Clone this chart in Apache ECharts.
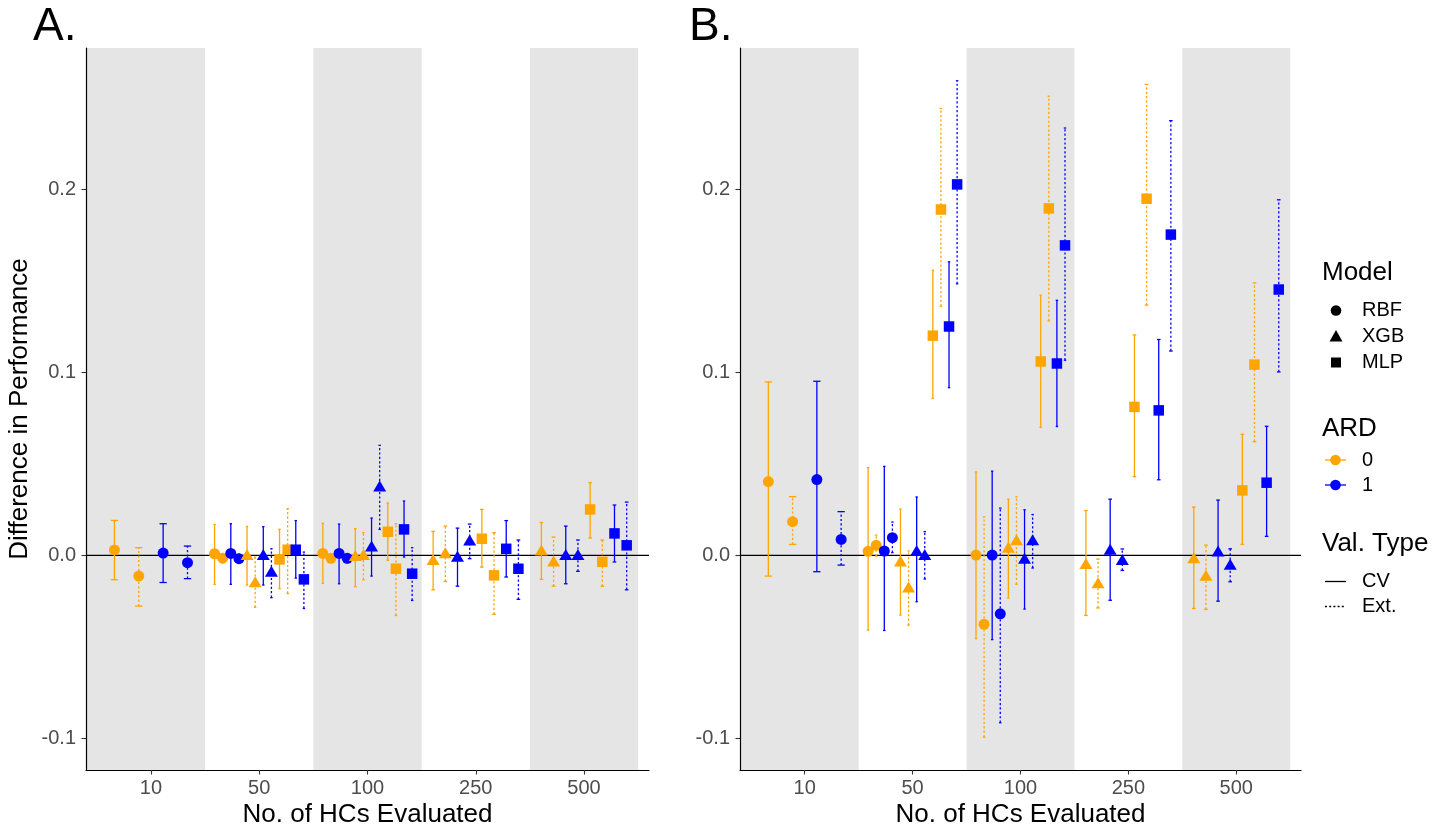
<!DOCTYPE html>
<html><head><meta charset="utf-8">
<script src="https://cdn.jsdelivr.net/npm/echarts@6/dist/echarts.min.js"></script>
<style>html,body{margin:0;padding:0;background:#fff}#c{width:1450px;height:831px}</style>
</head><body><div id="c"></div>
<script>
// ---------------- DATA ----------------
const categories = ['10', '50', '100', '250', '500'];
const yTickValues = [-0.1, 0, 0.1, 0.2];
const xTickValues = [1, 2, 3, 4, 5];

// group order: model x ARD x validation type
const groupModel = ['RBF','RBF','RBF','RBF','XGB','XGB','XGB','XGB','MLP','MLP','MLP','MLP'];
const groupARD   = [0,0,1,1,0,0,1,1,0,0,1,1];
const groupVal   = ['CV','Ext','CV','Ext','CV','Ext','CV','Ext','CV','Ext','CV','Ext'];

// each entry: [estimate, lower, upper] per category (null = not evaluated)
const A_RBF_0_CV  = [[0.0030,-0.0133,0.0191],[0.0009,-0.0158,0.0169],[0.0011,-0.0153,0.0175],null,null];
const A_RBF_0_Ext = [[-0.0113,-0.0277,0.0042],[-0.0015,-0.0040,0.0010],[-0.0016,-0.0040,0.0008],null,null];
const A_RBF_1_CV  = [[0.0013,-0.0148,0.0173],[0.0011,-0.0158,0.0173],[0.0011,-0.0155,0.0171],null,null];
const A_RBF_1_Ext = [[-0.0040,-0.0127,0.0051],[-0.0018,-0.0042,0.0006],[-0.0016,-0.0040,0.0008],null,null];
const A_XGB_0_CV  = [null,[0.0005,-0.0162,0.0158],[0.0000,-0.0171,0.0146],[-0.0022,-0.0188,0.0131],[0.0029,-0.0131,0.0180]];
const A_XGB_0_Ext = [null,[-0.0144,-0.0284,-0.0010],[0.0005,-0.0133,0.0124],[0.0015,-0.0142,0.0160],[-0.0031,-0.0168,0.0100]];
const A_XGB_1_CV  = [null,[0.0005,-0.0162,0.0157],[0.0051,-0.0113,0.0204],[-0.0004,-0.0168,0.0149],[0.0005,-0.0155,0.0160]];
const A_XGB_1_Ext = [null,[-0.0086,-0.0231,0.0036],[0.0379,0.0142,0.0601],[0.0084,-0.0018,0.0171],[0.0005,-0.0087,0.0084]];
const A_MLP_0_CV  = [null,[-0.0022,-0.0182,0.0142],[0.0129,-0.0027,0.0286],[0.0091,-0.0064,0.0251],[0.0251,0.0095,0.0397]];
const A_MLP_0_Ext = [null,[0.0031,-0.0208,0.0255],[-0.0073,-0.0328,0.0173],[-0.0109,-0.0322,0.0124],[-0.0035,-0.0168,0.0084]];
const A_MLP_1_CV  = [null,[0.0031,-0.0124,0.0190],[0.0142,-0.0009,0.0297],[0.0036,-0.0118,0.0190],[0.0120,-0.0036,0.0275]];
const A_MLP_1_Ext = [null,[-0.0131,-0.0290,0.0018],[-0.0100,-0.0246,0.0042],[-0.0073,-0.0240,0.0084],[0.0055,-0.0188,0.0291]];

const B_RBF_0_CV  = [[0.0403,-0.0113,0.0947],[0.0022,-0.0408,0.0479],[0.0002,-0.0455,0.0456],null,null];
const B_RBF_0_Ext = [[0.0184,0.0060,0.0321],[0.0055,-0.0004,0.0111],[-0.0376,-0.0993,0.0210],null,null];
const B_RBF_1_CV  = [[0.0414,-0.0089,0.0951],[0.0024,-0.0410,0.0486],[0.0002,-0.0460,0.0460],null,null];
const B_RBF_1_Ext = [[0.0087,-0.0053,0.0239],[0.0097,0.0015,0.0182],[-0.0319,-0.0914,0.0258],null,null];
const B_XGB_0_CV  = [null,[-0.0031,-0.0326,0.0253],[0.0045,-0.0233,0.0307],[-0.0044,-0.0328,0.0245],[-0.0013,-0.0290,0.0264]];
const B_XGB_0_Ext = [null,[-0.0173,-0.0381,0.0024],[0.0085,-0.0158,0.0320],[-0.0150,-0.0287,-0.0020],[-0.0108,-0.0295,0.0056]];
const B_XGB_1_CV  = [null,[0.0027,-0.0253,0.0319],[-0.0016,-0.0293,0.0249],[0.0033,-0.0245,0.0307],[0.0024,-0.0250,0.0302]];
const B_XGB_1_Ext = [null,[0.0005,-0.0129,0.0130],[0.0085,-0.0069,0.0223],[-0.0022,-0.0082,0.0035],[-0.0049,-0.0144,0.0036]];
const B_MLP_0_CV  = [null,[0.1200,0.0858,0.1557],[0.1059,0.0699,0.1421],[0.0811,0.0430,0.1204],[0.0355,0.0060,0.0661]];
const B_MLP_0_Ext = [null,[0.1889,0.1360,0.2441],[0.1895,0.1281,0.2508],[0.1948,0.1367,0.2572],[0.1042,0.0621,0.1488]];
const B_MLP_1_CV  = [null,[0.1250,0.0916,0.1603],[0.1048,0.0704,0.1393],[0.0792,0.0413,0.1179],[0.0397,0.0104,0.0705]];
const B_MLP_1_Ext = [null,[0.2026,0.1483,0.2592],[0.1693,0.1066,0.2334],[0.1752,0.1116,0.2374],[0.1452,0.1002,0.1942]];

const panelA = [A_RBF_0_CV,A_RBF_0_Ext,A_RBF_1_CV,A_RBF_1_Ext,A_XGB_0_CV,A_XGB_0_Ext,A_XGB_1_CV,A_XGB_1_Ext,A_MLP_0_CV,A_MLP_0_Ext,A_MLP_1_CV,A_MLP_1_Ext];
const panelB = [B_RBF_0_CV,B_RBF_0_Ext,B_RBF_1_CV,B_RBF_1_Ext,B_XGB_0_CV,B_XGB_0_Ext,B_XGB_1_CV,B_XGB_1_Ext,B_MLP_0_CV,B_MLP_0_Ext,B_MLP_1_CV,B_MLP_1_Ext];

// ---------------- STYLE / LAYOUT ----------------
const FONT = "'Liberation Sans', Arial, Helvetica, sans-serif";
const ARD_COLOR = {0: '#FFA500', 1: '#0000FF'};
const MODEL_SYMBOL = {RBF: 'circle', XGB: 'triangle', MLP: 'rect'};
const MODEL_SIZE = {RBF: 11, XGB: [13, 11], MLP: 10.5};
const DODGE = 0.9;
const X_MIN = 0.4, X_MAX = 5.6;
const Y_MIN = -0.1172, Y_MAX = 0.2771;
const BAND_RANGES = [[X_MIN, 1.5], [2.5, 3.5], [4.5, 5.5]];
const GRIDS = [
  {left: 86, top: 48, width: 563, height: 722},
  {left: 740, top: 48, width: 561, height: 722}
];
const TICK_FONT = 20, TITLE_FONT = 26, LEGEND_FONT = 20;

// position_dodge equivalent
function dodge(panel) {
  const out = panel.map(() => []);
  categories.forEach((c, ci) => {
    const present = [];
    panel.forEach((g, gi) => { if (g[ci]) present.push(gi); });
    const n = present.length;
    present.forEach((gi, k) => {
      const v = panel[gi][ci];
      out[gi].push([ci + 1 + (k - (n - 1) / 2) * DODGE / n, v[0], v[1], v[2], DODGE / n]);
    });
  });
  return out;
}

const series = [];
const xAxes = [], yAxes = [];
[panelA, panelB].forEach((panel, p) => {
  xAxes.push({
    type: 'value', gridIndex: p, min: X_MIN, max: X_MAX, z: 10,
    splitLine: {show: false},
    axisLine: {show: true, onZero: false, lineStyle: {color: '#000', width: 1.2}},
    axisTick: {show: true, length: 4.5, customValues: xTickValues, lineStyle: {color: '#333', width: 1.1}},
    axisLabel: {show: true, customValues: xTickValues, formatter: v => categories[Math.round(v) - 1],
      color: '#4D4D4D', fontSize: TICK_FONT, fontFamily: FONT, margin: 8}
  });
  yAxes.push({
    type: 'value', gridIndex: p, min: Y_MIN, max: Y_MAX, z: 10,
    splitLine: {show: false},
    axisLine: {show: true, onZero: false, lineStyle: {color: '#000', width: 1.2}},
    axisTick: {show: true, length: 4.5, customValues: yTickValues, lineStyle: {color: '#333', width: 1.1}},
    axisLabel: {show: true, customValues: yTickValues, formatter: v => (Math.abs(v) < 1e-9 ? 0 : v).toFixed(1),
      color: '#4D4D4D', fontSize: TICK_FONT, fontFamily: FONT, margin: 10}
  });
  // background bands
  series.push({
    type: 'custom', xAxisIndex: p, yAxisIndex: p, z: 1, silent: true,
    data: BAND_RANGES.map(r => [r[0], r[1], 0]),
    encode: {x: [0, 1], y: 2},
    renderItem: (params, api) => {
      const cs = params.coordSys;
      const x0 = api.coord([api.value(0), 0])[0];
      const x1 = api.coord([api.value(1), 0])[0];
      return {type: 'rect', shape: {x: x0, y: cs.y, width: x1 - x0, height: cs.height}, style: {fill: '#E5E5E5'}};
    }
  });
  // zero reference line
  series.push({
    type: 'custom', xAxisIndex: p, yAxisIndex: p, z: 2, silent: true,
    data: [[1, 0]], encode: {x: 0, y: 1},
    renderItem: (params, api) => {
      const cs = params.coordSys;
      const y = api.coord([1, 0])[1];
      return {type: 'line', shape: {x1: cs.x, y1: y, x2: cs.x + cs.width, y2: y}, style: {stroke: '#000', lineWidth: 1.4}};
    }
  });
  const dodged = dodge(panel);
  dodged.forEach((pts, gi) => {
    const color = ARD_COLOR[groupARD[gi]];
    const dashed = groupVal[gi] === 'Ext';
    series.push({
      type: 'custom', xAxisIndex: p, yAxisIndex: p, z: 3, silent: true,
      data: pts, encode: {x: 0, y: [1, 2, 3]},
      renderItem: (params, api) => {
        const x = api.value(0);
        const lo = api.coord([x, api.value(2)]);
        const hi = api.coord([x, api.value(3)]);
        const half = api.size([api.value(4) * 0.3, 0])[0] / 2;
        const style = {stroke: color, lineWidth: 1.3, lineDash: dashed ? [2.2, 2.2] : null, fill: null};
        return {type: 'group', children: [
          {type: 'line', shape: {x1: lo[0], y1: lo[1], x2: hi[0], y2: hi[1]}, style},
          {type: 'line', shape: {x1: lo[0] - half, y1: lo[1], x2: lo[0] + half, y2: lo[1]}, style: {stroke: color, lineWidth: 1.3}},
          {type: 'line', shape: {x1: hi[0] - half, y1: hi[1], x2: hi[0] + half, y2: hi[1]}, style: {stroke: color, lineWidth: 1.3}}
        ]};
      }
    });
  });
  dodged.forEach((pts, gi) => {
    const m = groupModel[gi];
    series.push({
      type: 'scatter', xAxisIndex: p, yAxisIndex: p, z: 4, silent: true,
      data: pts.map(d => [d[0], d[1]]),
      symbol: MODEL_SYMBOL[m], symbolSize: MODEL_SIZE[m],
      itemStyle: {color: ARD_COLOR[groupARD[gi]], opacity: 1}
    });
  });
});

// ---------------- TEXT & LEGEND ----------------
const graphics = [];
function txt(x, y, s, size, opts) {
  graphics.push(Object.assign({type: 'text', x, y, style: Object.assign({text: s, fontSize: size, fontFamily: FONT, fill: '#000',
    textAlign: 'left', textVerticalAlign: 'middle'}, (opts && opts.style) || {})}, (opts && opts.el) || {}));
}
txt(33, 27, 'A.', 46);
txt(689, 27, 'B.', 46);
txt(20, 409, 'Difference in Performance', TITLE_FONT, {style: {textAlign: 'center'}, el: {rotation: Math.PI / 2}});
txt(GRIDS[0].left + GRIDS[0].width / 2, 815, 'No. of HCs Evaluated', TITLE_FONT, {style: {textAlign: 'center'}});
txt(GRIDS[1].left + GRIDS[1].width / 2, 815, 'No. of HCs Evaluated', TITLE_FONT, {style: {textAlign: 'center'}});

// legend: Model
txt(1322, 273, 'Model', TITLE_FONT);
const legModels = ['RBF', 'XGB', 'MLP'];
const legModelY = [310.5, 336.5, 362.5];
legModels.forEach((m, i) => {
  const cx = 1336, cy = legModelY[i];
  if (m === 'RBF') graphics.push({type: 'circle', shape: {cx, cy, r: 5.3}, style: {fill: '#000'}});
  if (m === 'XGB') graphics.push({type: 'polygon', shape: {points: [[cx, cy - 6.5], [cx + 6.5, cy + 5], [cx - 6.5, cy + 5]]}, style: {fill: '#000'}});
  if (m === 'MLP') graphics.push({type: 'rect', shape: {x: cx - 5, y: cy - 5, width: 10, height: 10}, style: {fill: '#000'}});
  txt(1362, cy, m, LEGEND_FONT);
});
// legend: ARD
txt(1322, 428.5, 'ARD', TITLE_FONT);
[0, 1].forEach((a, i) => {
  const cy = [460, 485][i];
  graphics.push({type: 'line', shape: {x1: 1325, y1: cy, x2: 1346, y2: cy}, style: {stroke: ARD_COLOR[a], lineWidth: 1.3}});
  graphics.push({type: 'circle', shape: {cx: 1335.5, cy, r: 5.3}, style: {fill: ARD_COLOR[a]}});
  txt(1362, cy, String(a), LEGEND_FONT);
});
// legend: Val. Type
txt(1322, 544, 'Val. Type', TITLE_FONT);
['CV', 'Ext.'].forEach((v, i) => {
  const cy = [581.5, 606.5][i];
  graphics.push({type: 'line', shape: {x1: 1325, y1: cy, x2: 1346, y2: cy},
    style: {stroke: '#000', lineWidth: 1.3, lineDash: i === 1 ? [2, 2.2] : null}});
  txt(1362, cy, v, LEGEND_FONT);
});

const chart = echarts.init(document.getElementById('c'), null, {renderer: 'canvas'});
chart.setOption({
  animation: false,
  backgroundColor: '#fff',
  grid: GRIDS,
  xAxis: xAxes,
  yAxis: yAxes,
  series,
  graphic: graphics
});
</script>
</body></html>
